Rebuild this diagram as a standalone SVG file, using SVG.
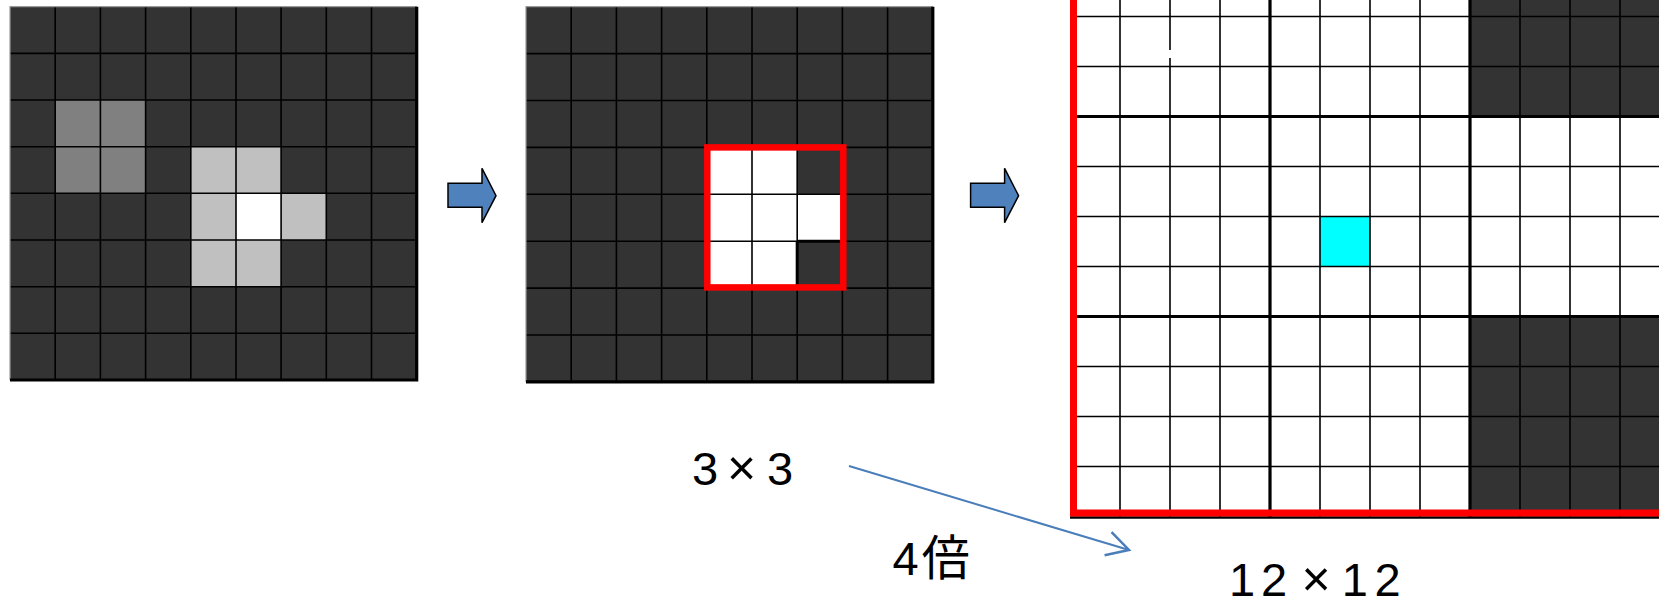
<svg xmlns="http://www.w3.org/2000/svg" width="1659" height="600" viewBox="0 0 1659 600">
<defs>
<style>
.dk{fill:#333333}
.gl{stroke:#000;stroke-width:1.6;fill:none}
.tk{stroke:#000;stroke-width:3.2;fill:none}
.txt{font-family:"Liberation Sans","Noto Sans CJK JP",sans-serif;font-size:47px;fill:#000}
.mul{font-size:50px}
.blk{fill:#4f81bd;stroke:#000;stroke-width:1.5;stroke-linejoin:miter}
</style>
<marker id="open" markerUnits="userSpaceOnUse" markerWidth="30" markerHeight="30" viewBox="-20 -12 24 24" refX="0" refY="0" orient="auto">
<path d="M-17.5,-9.7 L0,0 L-17.5,9.7" fill="none" stroke="#4a7ebb" stroke-width="2"/>
</marker>
</defs>
<rect width="1659" height="600" fill="#fff"/>

<g id="grid-input">
<rect class="dk" x="10" y="6.7" width="406.7" height="373.3"/>
<g fill="#808080">
<rect x="55.2" y="100" width="45.2" height="46.7"/>
<rect x="100.4" y="100" width="45.2" height="46.7"/>
<rect x="55.2" y="146.7" width="45.2" height="46.6"/>
<rect x="100.4" y="146.7" width="45.2" height="46.6"/>
</g>
<g fill="#c0c0c0">
<rect x="190.8" y="146.7" width="45.2" height="46.6"/>
<rect x="236" y="146.7" width="45.1" height="46.6"/>
<rect x="190.8" y="193.3" width="45.2" height="46.7"/>
<rect x="281.1" y="193.3" width="45.2" height="46.7"/>
<rect x="190.8" y="240" width="45.2" height="46.7"/>
<rect x="236" y="240" width="45.1" height="46.7"/>
</g>
<rect x="236" y="193.3" width="45.1" height="46.7" fill="#fff"/>
<path class="gl" d="M55.2,6.7V380M100.4,6.7V380M145.6,6.7V380M190.8,6.7V380M236,6.7V380M281.1,6.7V380M326.3,6.7V380M371.5,6.7V380M10,53.4H416.7M10,100H416.7M10,146.7H416.7M10,193.3H416.7M10,240H416.7M10,286.7H416.7M10,333.3H416.7"/>
<path d="M10,380V6.7H416.7" fill="none" stroke="#999" stroke-width="1.2"/>
<path d="M416.7,6.7V380H10" fill="none" stroke="#000" stroke-width="3.2"/>
</g>

<g id="grid-window">
<rect class="dk" x="526" y="6.7" width="406.8" height="375.2"/>
<g fill="#fff">
<rect x="706.8" y="147.4" width="45.2" height="46.9"/>
<rect x="752" y="147.4" width="45.2" height="46.9"/>
<rect x="706.8" y="194.3" width="45.2" height="46.9"/>
<rect x="752" y="194.3" width="45.2" height="46.9"/>
<rect x="797.2" y="194.3" width="45.2" height="46.9"/>
<rect x="706.8" y="241.2" width="45.2" height="46.9"/>
<rect x="752" y="241.2" width="45.2" height="46.9"/>
</g>
<path class="gl" d="M571.2,6.7V381.9M616.4,6.7V381.9M661.6,6.7V381.9M706.8,6.7V381.9M752,6.7V381.9M797.2,6.7V381.9M842.4,6.7V381.9M887.6,6.7V381.9M526,53.6H932.8M526,100.5H932.8M526,147.4H932.8M526,194.3H932.8M526,241.2H932.8M526,288.1H932.8M526,335H932.8"/>
<path d="M797.2,241.2V288.1M797.2,241.2H842.4" fill="none" stroke="#000" stroke-width="3"/>
<path d="M526,381.9V6.7H932.8" fill="none" stroke="#999" stroke-width="1.2"/>
<path d="M932.8,6.7V381.9H526" fill="none" stroke="#000" stroke-width="3.2"/>
<rect x="707.3" y="147.4" width="136" height="140" fill="none" stroke="#ff0000" stroke-width="6.5"/>
</g>

<g id="grid-output">
<rect x="1070" y="-83.5" width="600" height="600" fill="#fff"/>
<rect class="dk" x="1470" y="-83.5" width="200" height="200"/>
<rect class="dk" x="1470" y="316.5" width="200" height="200"/>
<rect x="1320" y="216.5" width="50" height="50" fill="#00ffff"/>
<path class="gl" d="M1120,-84V517M1170,-84V517M1220,-84V517M1320,-84V517M1370,-84V517M1420,-84V517M1520,-84V517M1570,-84V517M1620,-84V517M1070,-33.5H1670M1070,16.5H1670M1070,66.5H1670M1070,166.5H1670M1070,216.5H1670M1070,266.5H1670M1070,366.5H1670M1070,416.5H1670M1070,466.5H1670"/>
<path class="tk" d="M1270,-84V517M1470,-84V517M1070,116.5H1670M1070,316.5H1670"/>
<rect x="1168.6" y="50" width="3" height="8" fill="#fff"/>
<path d="M1070,517.5H1670" stroke="#000" stroke-width="2.5"/>
<rect x="1073.5" y="-100" width="700" height="613" fill="none" stroke="#ff0000" stroke-width="7"/>
</g>

<g id="arrow-1">
<polygon class="blk" points="448,183.3 482,183.3 482,168.3 496,195.7 482,222.7 482,207.3 448,207.3"/>
</g>
<g id="arrow-2">
<polygon class="blk" points="970.6,183.3 1004.6,183.3 1004.6,168.3 1018.6,195.7 1004.6,222.7 1004.6,207.3 970.6,207.3"/>
</g>

<g id="label-3x3"><text class="txt" y="485"><tspan x="691.9">3</tspan><tspan class="mul" x="727.1">×</tspan><tspan x="766.9">3</tspan></text></g>
<g id="label-4x"><text class="txt" x="892.6" y="575" font-size="46">4<tspan dx="3" font-size="48">倍</tspan></text></g>
<g id="label-12x12"><text class="txt" y="596" font-size="45"><tspan x="1229">1</tspan><tspan x="1261">2</tspan><tspan class="mul" x="1301.4">×</tspan><tspan x="1341.7">1</tspan><tspan x="1374.6">2</tspan></text></g>

<g id="connectors">
<line x1="849" y1="466" x2="1129" y2="550" stroke="#4a7ebb" stroke-width="2" marker-end="url(#open)"/>
</g>
</svg>
